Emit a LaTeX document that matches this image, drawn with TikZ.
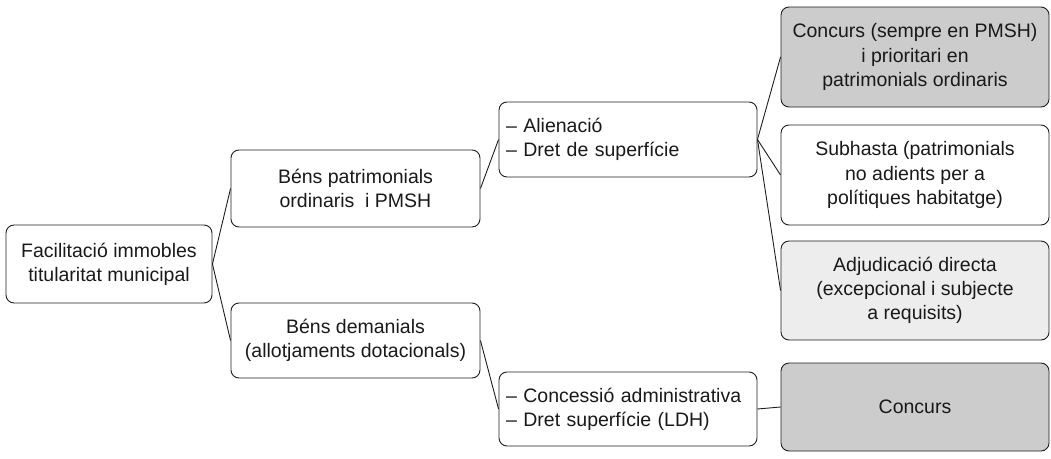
\documentclass[tikz,border=0pt]{standalone}
\usepackage{fontspec}
\setmainfont{Liberation Sans}
\definecolor{lineclr}{RGB}{30,30,30}
\definecolor{darkfill}{RGB}{204,204,204}
\definecolor{lightfill}{RGB}{237,237,237}
\begin{document}
\begin{tikzpicture}[x=1pt,y=-1pt,
  box/.style={draw=lineclr, line width=0.9pt, rounded corners=8pt, inner sep=0pt,
    font=\fontsize{19.5}{24.3}\selectfont, text=black!90},
  cbox/.style={box, align=center},
  lbox/.style={box, align=left, inner xsep=7pt},
  link/.style={draw=lineclr, line width=0.9pt}]
\useasboundingbox (0,0) rectangle (1051,458);

\node[cbox, minimum width=206pt, minimum height=78pt] (A) at (109,264)
  {Facilitació immobles\\titularitat municipal};
\node[cbox, minimum width=249pt, minimum height=77pt] (B) at (355.5,188.5)
  {Béns patrimonials\\ordinaris~ i PMSH};
\node[cbox, minimum width=249pt, minimum height=75pt] (H) at (355.5,340.5)
  {Béns demanials\\(allotjaments dotacionals)};
\node[lbox, text width=244pt, minimum height=75pt] (C) at (628,139.5)
  {– Alienació\\– Dret de superfície};
\node[lbox, text width=244pt, minimum height=74pt] (I) at (628,409)
  {– Concessió administrativa\\– Dret superfície (LDH)};
\node[cbox, fill=darkfill, minimum width=268pt, minimum height=100pt] (D) at (915,57)
  {Concurs (sempre en PMSH)\\i prioritari en\\patrimonials ordinaris};
\node[cbox, minimum width=268pt, minimum height=100pt] (E) at (915,175)
  {Subhasta (patrimonials\\no adients per a\\polítiques habitatge)};
\node[cbox, fill=lightfill, minimum width=268pt, minimum height=99pt] (F) at (915,290.5)
  {Adjudicació directa\\(excepcional i subjecte\\a requisits)};
\node[cbox, fill=darkfill, minimum width=268pt, minimum height=88pt] (G) at (915,407)
  {Concurs};

\draw[link] (A.east) -- (B.west);
\draw[link] (A.east) -- (H.west);
\draw[link] (B.east) -- (C.west);
\draw[link] (C.east) -- (D.west);
\draw[link] (C.east) -- (E.west);
\draw[link] (C.east) -- (F.west);
\draw[link] (H.east) -- (I.west);
\draw[link] (I.east) -- (G.west);
\end{tikzpicture}
\end{document}
